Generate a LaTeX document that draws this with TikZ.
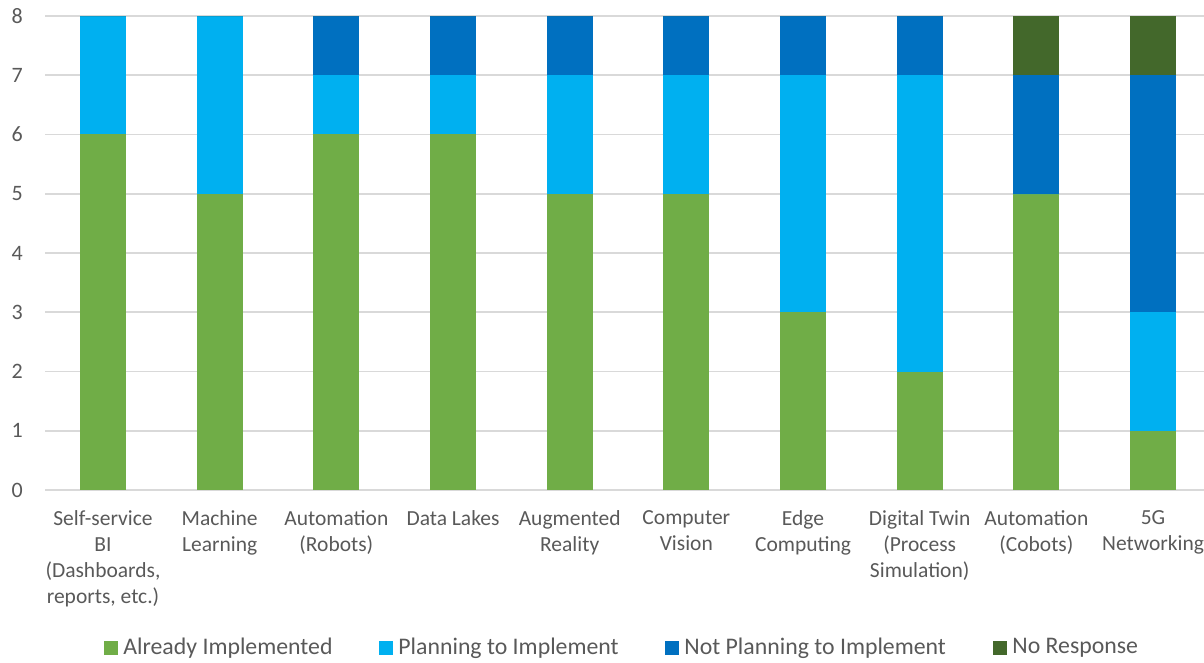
\documentclass[tikz,border=0pt]{standalone}
\usepackage{fontspec}
\setmainfont{Carlito}
\usepackage{xcolor}
\usepackage{tikz}
\usetikzlibrary{positioning}

\definecolor{already}{HTML}{70AD47}
\definecolor{planning}{HTML}{00B0F0}
\definecolor{notplanning}{HTML}{0070C0}
\definecolor{noresp}{HTML}{43682B}
\definecolor{gridgray}{HTML}{D9D9D9}
\definecolor{axistext}{HTML}{595959}

\begin{document}
\begin{tikzpicture}[x=1pt, y=1pt, font=\fontsize{21.5}{26}\selectfont]
		\tikzstyle{tick} = [anchor=east, text=axistext, inner sep=0pt, font=\fontsize{22}{26}\selectfont]
		\tikzstyle{cat} = [anchor=north, align=center, text=axistext, inner sep=0pt]
		\tikzstyle{grid} = [draw=gridgray, line width=1.6pt]
		\tikzstyle{key} = [minimum size=14pt, inner sep=0pt]
		\tikzstyle{keytext} = [anchor=west, text=axistext, inner sep=0pt, font=\fontsize{23.8}{28}\selectfont]
		
		\useasboundingbox (0,0) rectangle (1204,662);
		
		% grid lines and value axis
		\foreach \v in {0,...,8} {
			\draw[grid] (45,{172+59.25*\v}) -- (1204,{172+59.25*\v});
			\node[tick] (t\v) at (23,{172+59.25*\v}) {\v};
		}
		
		% stacked bars: already / planning / not planning / no response
		\foreach \i/\a/\p/\n/\r in {1/6/2/0/0, 2/5/3/0/0, 3/6/1/1/0, 4/6/1/1/0, 5/5/2/1/0,
			6/5/2/1/0, 7/3/4/1/0, 8/2/5/1/0, 9/5/0/2/1, 10/1/2/4/1} {
			\pgfmathsetmacro\xc{103+(\i-1)*116.67}
			\pgfmathsetmacro\ya{172+59.25*\a}
			\pgfmathsetmacro\yp{\ya+59.25*\p}
			\pgfmathsetmacro\yn{\yp+59.25*\n}
			\pgfmathsetmacro\yr{\yn+59.25*\r}
			\fill[already] (\xc-23,172) rectangle (\xc+23,\ya);
			\fill[planning] (\xc-23,\ya) rectangle (\xc+23,\yp);
			\fill[notplanning] (\xc-23,\yp) rectangle (\xc+23,\yn);
			\fill[noresp] (\xc-23,\yn) rectangle (\xc+23,\yr);
		}
		
		% category labels
		\foreach \i/\txt in {1/{Self-service\\BI\\(Dashboards,\\reports, etc.)},
			2/{Machine\\Learning}, 3/{Automation\\(Robots)}, 4/{Data Lakes},
			5/{Augmented\\Reality}, 6/{Computer\\Vision}, 7/{Edge\\Computing},
			8/{Digital Twin\\(Process\\Simulation)}, 9/{Automation\\(Cobots)},
			10/{5G\\Networking}} {
			\node[cat] (c\i) at ({103+(\i-1)*116.67},152) {\txt};
		}
		
		% legend
		\node[key, fill=already] 	at (111,14) 	(k1) 	{};
		\node[keytext, right=5pt of k1] 	(l1) 	{Already Implemented};
		\node[key, fill=planning] 	at (386,14) 	(k2) 	{};
		\node[keytext, right=5pt of k2] 	(l2) 	{Planning to Implement};
		\node[key, fill=notplanning] 	at (672,14) 	(k3) 	{};
		\node[keytext, right=5pt of k3] 	(l3) 	{Not Planning to Implement};
		\node[key, fill=noresp] 	at (1000,14) 	(k4) 	{};
		\node[keytext, right=5pt of k4] 	(l4) 	{No Response};
\end{tikzpicture}
\end{document}
